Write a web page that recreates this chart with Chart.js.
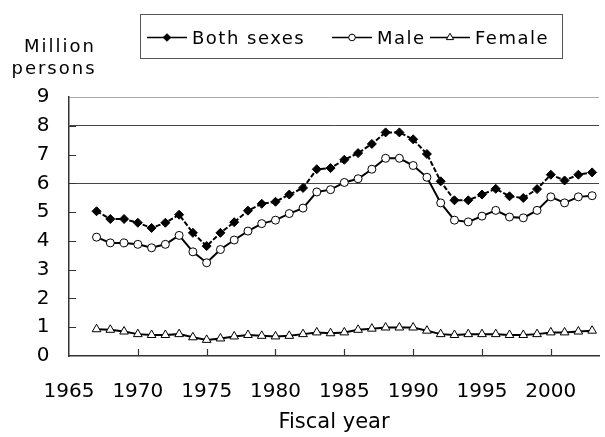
<!DOCTYPE html>
<html>
<head>
<meta charset="utf-8">
<script src="https://cdn.jsdelivr.net/npm/chart.js@4/dist/chart.umd.min.js"></script>
<style>
  html, body { margin: 0; padding: 0; background: #fff; }
</style>
</head>
<body>
<canvas id="chart" width="605" height="437"></canvas>
<script>
// Fiscal years 1967-2003, million persons
const years = [1967, 1968, 1969, 1970, 1971, 1972, 1973, 1974, 1975, 1976,
               1977, 1978, 1979, 1980, 1981, 1982, 1983, 1984, 1985, 1986,
               1987, 1988, 1989, 1990, 1991, 1992, 1993, 1994, 1995, 1996,
               1997, 1998, 1999, 2000, 2001, 2002, 2003];
const bothSexes = [5.03, 4.76, 4.76, 4.63, 4.45, 4.63, 4.91, 4.28, 3.82, 4.28,
                   4.65, 5.05, 5.29, 5.36, 5.61, 5.84, 6.49, 6.53, 6.82, 7.05,
                   7.37, 7.77, 7.77, 7.53, 7.02, 6.07, 5.41, 5.41, 5.61, 5.81,
                   5.55, 5.49, 5.80, 6.30, 6.10, 6.30, 6.38];
const male = [4.13, 3.93, 3.93, 3.88, 3.76, 3.88, 4.19, 3.62, 3.24, 3.70,
              4.03, 4.34, 4.60, 4.72, 4.95, 5.14, 5.70, 5.78, 6.03, 6.16,
              6.49, 6.87, 6.87, 6.62, 6.21, 5.32, 4.72, 4.66, 4.86, 5.06,
              4.83, 4.80, 5.06, 5.53, 5.32, 5.53, 5.57];
const female = [0.93, 0.91, 0.85, 0.76, 0.73, 0.73, 0.76, 0.65, 0.56, 0.61,
                0.68, 0.73, 0.70, 0.68, 0.70, 0.76, 0.82, 0.79, 0.82, 0.91,
                0.95, 0.99, 0.99, 0.99, 0.88, 0.76, 0.73, 0.76, 0.76, 0.76,
                0.73, 0.73, 0.76, 0.82, 0.82, 0.85, 0.88];
const xTicks = [1965, 1970, 1975, 1980, 1985, 1990, 1995, 2000];
const yTicks = [0, 1, 2, 3, 4, 5, 6, 7, 8, 9];
const seriesLabels = ["Both sexes", "Male", "Female"];

const FONT = "'DejaVu Sans', sans-serif";

function pairs(vals) {
    return years.map((y, i) => ({ x: y, y: vals[i] }));
}

// inward tick marks on both axes, taken from the scales
const innerTicks = {
    id: "innerTicks",
    beforeDatasetsDraw(chart) {
        const { ctx, chartArea: a, scales: { x, y } } = chart;
        ctx.save();
        ctx.strokeStyle = "#333";
        ctx.lineWidth = 1.2;
        ctx.beginPath();
        yTicks.forEach(v => {
            if (v === 0 || v === 9) return;
            const py = Math.round(y.getPixelForValue(v)) + 0.5;
            ctx.moveTo(a.left, py);
            ctx.lineTo(a.left + 7, py);
        });
        xTicks.forEach(v => {
            if (v === 1965) return;
            const px = Math.round(x.getPixelForValue(v)) + 0.5;
            ctx.moveTo(px, a.bottom);
            ctx.lineTo(px, a.bottom - 7);
        });
        ctx.stroke();
        ctx.restore();
    }
};

// unit label and boxed legend
const extras = {
    id: "extras",
    afterDraw(chart) {
        const ctx = chart.ctx;
        const ds = chart.data.datasets;
        ctx.save();
        ctx.fillStyle = "#000";
        ctx.font = "18px " + FONT;
        ctx.letterSpacing = "2px";
        ctx.textBaseline = "alphabetic";
        ctx.textAlign = "center";
        ctx.fillText("Million", 60, 52);
        ctx.fillText("persons", 54, 74);

        // legend
        ctx.textAlign = "left";
        ctx.letterSpacing = "1.5px";
        const cy = 37.5;
        const itemX = [147, 332, 430];
        const legendMarks = [
            { style: "rectRot", r: 3.8, fill: "#000" },
            { style: "circle", r: 3.3, fill: "#fff" },
            { style: "triangle", r: 4.2, fill: "#fff" }
        ];
        ds.forEach((d, i) => {
            const xPos = itemX[i];
            ctx.strokeStyle = "#000";
            ctx.lineWidth = 1.5;
            ctx.beginPath();
            ctx.moveTo(xPos, cy);
            ctx.lineTo(xPos + 40, cy);
            ctx.stroke();
            const m = legendMarks[i];
            ctx.fillStyle = m.fill;
            ctx.lineWidth = 1;
            Chart.helpers.drawPoint(ctx, { pointStyle: m.style, radius: m.r, rotation: 0, borderWidth: 1 }, xPos + 20, cy);
            ctx.fillStyle = "#000";
            ctx.fillText(d.label, xPos + 45, 44);
        });
        ctx.strokeStyle = "#555";
        ctx.lineWidth = 1;
        ctx.strokeRect(140.5, 14.5, 422, 44);
        ctx.restore();
    }
};

new Chart(document.getElementById("chart"), {
    type: "line",
    data: {
        datasets: [
            {
                label: seriesLabels[0],
                data: pairs(bothSexes),
                borderColor: "#000",
                borderWidth: 2,
                borderDash: [5, 2],
                pointStyle: "rectRot",
                pointRadius: 4.5,
                pointBackgroundColor: "#000",
                pointBorderColor: "#000",
                pointBorderWidth: 1,
                tension: 0,
            },
            {
                label: seriesLabels[1],
                data: pairs(male),
                borderColor: "#000",
                borderWidth: 2,
                pointStyle: "circle",
                pointRadius: 4,
                pointBackgroundColor: "#fff",
                pointBorderColor: "#000",
                pointBorderWidth: 1,
                tension: 0,
            },
            {
                label: seriesLabels[2],
                data: pairs(female),
                borderColor: "#000",
                borderWidth: 2,
                pointStyle: "triangle",
                pointRadius: 5,
                pointBackgroundColor: "#fff",
                pointBorderColor: "#000",
                pointBorderWidth: 1,
                tension: 0,
            },
        ],
    },
    options: {
        responsive: false,
        animation: false,
        layout: { padding: { top: 97, left: 0, right: 0, bottom: 0 } },
        plugins: {
            legend: { display: false },
            tooltip: { enabled: false },
        },
        scales: {
            x: {
                type: "linear",
                min: 1965,
                max: 2003.5,
                afterBuildTicks: s => { s.ticks = xTicks.map(v => ({ value: v })); },
                afterFit: s => { s.height = 81; },
                grid: { display: false, drawTicks: false },
                border: { display: true, color: "#333", width: 1.5 },
                ticks: {
                    color: "#000",
                    font: { family: FONT, size: 20 },
                    padding: 24,
                    maxRotation: 0,
                    autoSkip: false,
                    callback: v => String(v),
                },
                title: {
                    display: true,
                    text: "Fiscal year",
                    color: "#000",
                    font: { family: FONT, size: 21 },
                    padding: { top: 0, bottom: 2 },
                },
            },
            y: {
                min: 0,
                max: 9,
                afterBuildTicks: s => { s.ticks = yTicks.map(v => ({ value: v })); },
                afterFit: s => { s.width = 69; },
                grid: {
                    drawTicks: false,
                    lineWidth: 1,
                    color: c => {
                        const v = c.tick && c.tick.value;
                        if (v === 6 || v === 8) return "#444";
                        if (v === 9) return "#aaa";
                        return "rgba(0,0,0,0)";
                    },
                },
                border: { display: true, color: "#333", width: 1.5 },
                ticks: {
                    color: "#000",
                    font: { family: FONT, size: 20 },
                    padding: 19.5,
                },
            },
        },
    },
    plugins: [innerTicks, extras],
});
</script>
</body>
</html>
